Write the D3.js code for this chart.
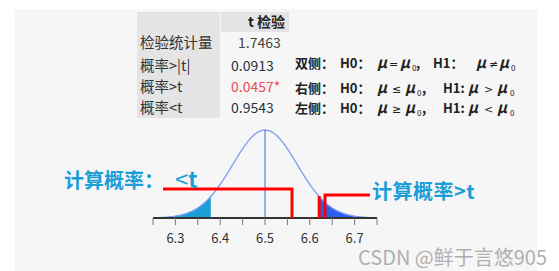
<!doctype html>
<head>
  <meta charset="utf-8">
  <script src="https://cdnjs.cloudflare.com/ajax/libs/d3/7.8.2/d3.min.js"></script>
</head>
<style>
    body { margin: 0; background: #fff; }
    svg { display: block; font-family: "Noto Sans CJK SC", "Noto Sans", sans-serif; }
</style>
<body>
    <div id="chart"></div>
    <script>
        // t 检验结果表
        const rowLabels = ["检验统计量", "概率>|t|", "概率>t", "概率<t"];
        const rowValues = ["1.7463", "0.0913", "0.0457*", "0.9543"];
        const rowColors = ["#444", "#2b3340", "#f04858", "#2b3340"];
        // 假设说明
        const hypSides = ["双侧", "右侧", "左侧"];
        const hypH0 = ["=", "≤", "≥"];
        const hypH1 = ["≠", ">", "<"];
        // 分布参数与刻度
        const mu = 6.5, sigma = 0.072;
        const critLow = 6.379, critHigh = 6.621;
        const xDomain = [6.25, 6.75];
        const tickLabels = [6.3, 6.4, 6.5, 6.6, 6.7];
        const minorTicks = [6.25, 6.3, 6.35, 6.4, 6.45, 6.5, 6.55, 6.6, 6.65, 6.7, 6.75];

        const width = 559, height = 271;
        const svg = d3.select('#chart').append('svg')
            .attr('width', width).attr('height', height);

        // 背景面板
        svg.append('rect').attr('x', 15).attr('y', 9).attr('width', 522).attr('height', 262).attr('fill', '#f6f6f6');

        // 表格
        const table = svg.append('g');
        table.append('rect').attr('x', 137).attr('y', 12).attr('width', 83).attr('height', 106).attr('fill', '#e4e4e4');
        table.append('rect').attr('x', 221).attr('y', 12).attr('width', 68).attr('height', 20).attr('fill', '#e4e4e4');
        table.append('text').attr('x', 285).attr('y', 27).attr('text-anchor', 'end')
            .attr('font-size', 14).attr('font-weight', 'bold').attr('fill', '#222').text('t 检验');
        const rowY = [43, 66, 87, 108];
        table.selectAll('.lbl').data(rowLabels).enter().append('text')
            .attr('x', 140).attr('y', (d, i) => rowY[i] + 5)
            .attr('font-size', 14.5).attr('fill', '#333').text(d => d);
        table.selectAll('.val').data(rowValues).enter().append('text')
            .attr('x', (d, i) => i === 0 ? 238 : 231).attr('y', (d, i) => rowY[i] + 5)
            .attr('font-size', 14).attr('fill', (d, i) => rowColors[i]).text(d => d);

        // 假设文本（各段起点）
        const segX = [
            [295, 340, 377, 389, 400, 412, 416, 433, 476, 489, 499, 511],
            [295, 340, 377, 392, 405, 417, 422, 443, 468, 484, 497, 510],
            [295, 340, 377, 392, 405, 417, 422, 443, 468, 484, 497, 510]
        ];
        const hyp = svg.append('g').attr('font-size', 13).attr('font-weight', 'bold').attr('fill', '#222');
        hypSides.forEach((side, i) => {
            const sx = segX[i];
            const by = [63, 88, 108][i] + 5;
            const t = hyp.append('text').attr('y', by);
            const seg = [
                [side + '：', false], ['H0：', false], ['μ', true], [hypH0[i], 'op'], ['μ', true], ['0', 'sub'],
                [',', false], [i === 0 ? 'H1：' : 'H1:', false], ['μ', true], [hypH1[i], 'op'], ['μ', true], ['0', 'sub']
            ];
            seg.forEach((s, k) => {
                const sp = t.append('tspan').attr('x', sx[k]).attr('y', s[1] === 'sub' ? by + 3 : by).text(s[0]);
                if (s[1] === true) sp.attr('font-style', 'italic').attr('font-size', 15);
                if (s[1] === 'op') sp.attr('font-family', 'DejaVu Sans').attr('font-size', 11).attr('font-weight', 'normal');
                if (s[1] === 'sub') sp.attr('font-size', 8).attr('font-weight', 'normal');
            });
        });

        // 分布图
        const x = d3.scaleLinear().domain(xDomain).range([153, 377]);
        const y = d3.scaleLinear().domain([0, 1]).range([218, 130]);
        const dens = v => Math.exp(-0.5 * Math.pow((v - mu) / sigma, 2));
        const pts = d3.range(xDomain[0], xDomain[1] + 0.0001, 0.002);

        const area = d3.area().x(d => x(d)).y0(y(0)).y1(d => y(dens(d)));
        svg.append('path').datum(pts.filter(d => d <= critLow).concat([critLow]))
            .attr('d', area).attr('fill', '#1b9fd8');
        svg.append('path').datum([critHigh].concat(pts.filter(d => d >= critHigh)))
            .attr('d', area).attr('fill', '#2a5ff0');

        svg.append('path').datum(pts)
            .attr('d', d3.line().x(d => x(d)).y(d => y(dens(d))))
            .attr('fill', 'none').attr('stroke', '#7d9cf0').attr('stroke-width', 1.3);

        svg.append('line').attr('x1', x(mu)).attr('x2', x(mu)).attr('y1', y(1)).attr('y2', y(0))
            .attr('stroke', '#3a68e0').attr('stroke-width', 1);

        // 坐标轴
        const axis = svg.append('g').attr('transform', `translate(0,${y(0)})`);
        axis.append('line').attr('x1', x(xDomain[0])).attr('x2', x(xDomain[1])).attr('stroke', '#333').attr('stroke-width', 2);
        axis.selectAll('.tk').data(minorTicks).enter().append('line')
            .attr('x1', d => x(d)).attr('x2', d => x(d)).attr('y1', 0).attr('y2', 7)
            .attr('stroke', '#777').attr('stroke-width', 1);
        axis.selectAll('.tl').data(tickLabels).enter().append('text')
            .attr('x', d => x(d)).attr('y', 25).attr('text-anchor', 'middle')
            .attr('font-size', 13).attr('fill', '#333').text(d => d3.format('.1f')(d));

        // 红色标注线
        const red = svg.append('g').attr('fill', 'none').attr('stroke', '#f00').attr('stroke-width', 3);
        red.append('path').attr('d', `M163,189H292V218`);
        red.append('path').attr('d', `M${x(critHigh)},196V218`);
        red.append('path').attr('d', `M325,218V195H370`);

        // 标注文字
        const lt = svg.append('text').attr('x', 64).attr('y', 188).attr('font-size', 20).attr('font-weight', 'bold')
            .attr('fill', '#1a9ed8').text('计算概率：');
        lt.append('tspan').attr('x', 175).attr('font-size', 24).attr('font-weight', 'normal').text('<');
        lt.append('tspan').attr('font-size', 22).text('t');
        svg.append('text').attr('x', 372).attr('y', 199).attr('font-size', 20).attr('font-weight', 'bold')
            .attr('fill', '#1a9ed8').attr('letter-spacing', 0.5).text('计算概率>t');

        // 水印
        svg.append('text').attr('x', 358).attr('y', 265).attr('font-size', 20)
            .attr('fill', '#b0b0b0').text('CSDN @鲜于言悠905');
    </script>
</body>
